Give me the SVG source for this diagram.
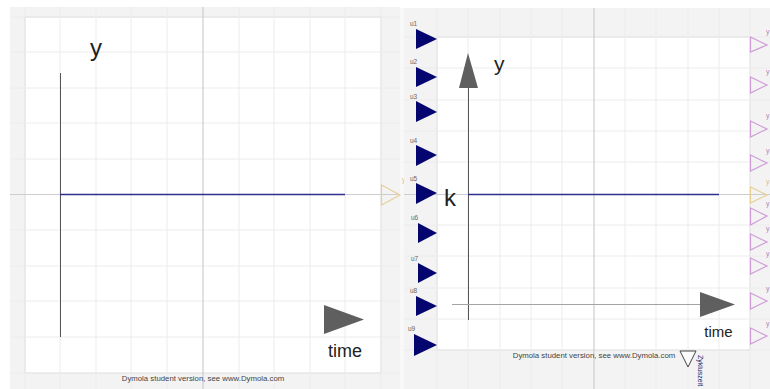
<svg xmlns="http://www.w3.org/2000/svg" width="770" height="389" viewBox="0 0 770 389">
<style>
.bg{fill:#f3f3f3}
.paper{fill:#fff;stroke:#dadada;stroke-width:1}
.g{stroke:#ececec;stroke-width:1;fill:none}
.c{stroke:#cdcdcd;stroke-width:1.2;fill:none}
.ax{stroke:#555;stroke-width:1;fill:none}
.tl{stroke:#a4a4a4;stroke-width:1;fill:none}
.data{stroke:#2f2f8f;stroke-width:1.4;fill:none}
.arrow{fill:#5f5f5f}
.in{fill:#05056f}
.out{fill:none;stroke:#cf9bd8;stroke-width:1.2}
.or{fill:none;stroke:#e8cf98;stroke-width:1.2}
text{font-family:"Liberation Sans",Arial,sans-serif}
.big{fill:#222;font-size:24px}
.t{fill:#222;text-anchor:middle}
.s{fill:#666;font-size:6.5px}
.ol{fill:#b77cc6;font-size:7px}
.f{fill:#444;font-size:7.8px;text-anchor:middle}
</style>
<rect width="770" height="389" fill="#fff"/>
<rect x="400" y="8" width="4" height="381" fill="#f8f8f8"/>
<g id="left-panel">
<rect class="bg" x="10" y="7" width="390" height="382"/>
<rect class="paper" x="25" y="17" width="356" height="356"/>
<path class="g" d="M25 7V389M60 7V389M96 7V389M131 7V389M167 7V389M239 7V389M274 7V389M310 7V389M345 7V389M381 7V389M10 17H400M10 52H400M10 88H400M10 123H400M10 159H400M10 230H400M10 266H400M10 301H400M10 337H400M10 373H400"/>
<path class="c" d="M203 7V389M10 194.500H400"/>
<path class="ax" d="M60.500 73V337"/>
<path class="data" d="M60 194.500H345"/>
<polygon class="arrow" points="324,305 364,319.500 324,334"/>
<text class="big" x="90" y="56">y</text>
<text class="t" x="345" y="357" font-size="18">time</text>
<text class="f" x="203" y="381">Dymola student version, see www.Dymola.com</text>
<polygon id="left-out" class="or" points="381.500,185 400,195 381.500,205"/>
<text x="402" y="182" fill="#d9bd80" font-size="7">y</text>
</g>
<g id="right-panel">
<rect class="bg" x="404" y="8" width="366" height="381"/>
<rect class="paper" x="437" y="37" width="313" height="313"/>
<path class="g" d="M437 8V389M468 8V389M500 8V389M531 8V389M562 8V389M625 8V389M656 8V389M688 8V389M719 8V389M750 8V389M404 37H770M404 68H770M404 100H770M404 131H770M404 162H770M404 225H770M404 256H770M404 288H770M404 319H770M404 350H770"/>
<path class="c" d="M594 8V389M404 194.500H770"/>
<path class="ax" d="M468.500 88V320"/>
<path class="tl" d="M452 304.500H700"/>
<path class="data" d="M468 194.500H719"/>
<polygon class="arrow" points="468,53 478,88 459,88"/>
<polygon class="arrow" points="700,292 735,304.500 700,317"/>
<text class="big" x="494" y="71" style="font-size:21px">y</text>
<text class="big" x="444" y="206">k</text>
<text class="t" x="718.500" y="337" font-size="15">time</text>
<text class="f" x="594" y="358">Dymola student version, see www.Dymola.com</text>
</g>
<g id="inputs">
<polygon class="in" points="416,29 437,39 416,49"/><text class="s" x="410" y="26">u1</text>
<polygon class="in" points="416,67 437,77 416,87"/><text class="s" x="410" y="64">u2</text>
<polygon class="in" points="416,101 437,112 416,122"/><text class="s" x="410" y="99">u3</text>
<polygon class="in" points="416,145 437,155 416,166"/><text class="s" x="410" y="143">u4</text>
<polygon class="in" points="416,183 437,193 416,204"/><text class="s" x="410" y="181">u5</text>
<polygon class="in" points="418,223 437,233 418,243"/><text class="s" x="411" y="220">u6</text>
<polygon class="in" points="418,263 437,273 418,283"/><text class="s" x="411" y="261">u7</text>
<polygon class="in" points="416,296 437,306 416,316"/><text class="s" x="410" y="293">u8</text>
<polygon class="in" points="414,334 437,345 414,356"/><text class="s" x="408" y="331">u9</text>
</g>
<g id="outputs">
<polygon class="out" points="750.500,37 767,45 750.500,52"/><text class="ol" x="766" y="34">y</text>
<polygon class="out" points="750.500,77 767,85 750.500,93"/><text class="ol" x="766" y="74">y</text>
<polygon class="out" points="750.500,121 767,129 750.500,137"/><text class="ol" x="766" y="118">y</text>
<polygon class="out" points="750.500,155 767,163 750.500,171"/><text class="ol" x="766" y="153">y</text>
<polygon class="or" points="750.500,187 767,195 750.500,203"/><text x="766" y="184" fill="#d9bd80" font-size="7">y</text>
<polygon class="out" points="750.500,208 767,216 750.500,225"/><text class="ol" x="766" y="206">y</text>
<polygon class="out" points="750.500,234 767,242 750.500,250"/><text class="ol" x="766" y="231">y</text>
<polygon class="out" points="750.500,258 767,266 750.500,274"/><text class="ol" x="766" y="256">y</text>
<polygon class="out" points="750.500,293 767,301 750.500,309"/><text class="ol" x="766" y="291">y</text>
<polygon class="out" points="750.500,328 767,336 750.500,344"/><text class="ol" x="766" y="326">y</text>
</g>
<g id="cycle">
<polygon points="680,351 696,351 688,367" fill="#fbfbfb" stroke="#444" stroke-width="1"/>
<text x="698" y="355" fill="#1b1b6b" font-size="7" transform="rotate(90 698 355)">Zykluszeit</text>
</g>
</svg>
